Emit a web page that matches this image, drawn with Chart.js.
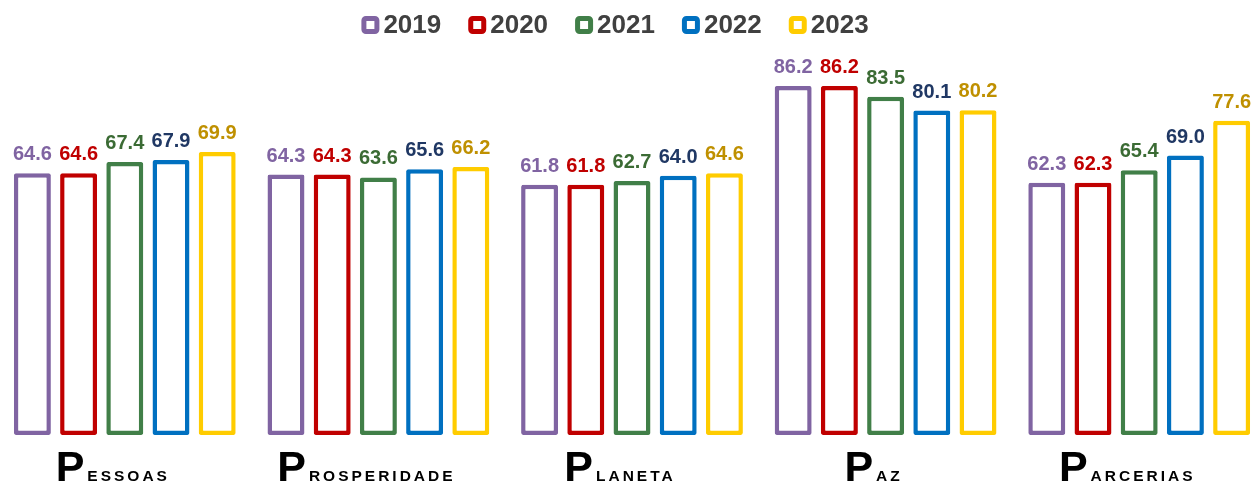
<!DOCTYPE html>
<html lang="pt">
<head>
  <meta charset="UTF-8" />
  <title>ODS por dimensão</title>
  <style>
    body {
      margin: 0;
      background-color: white;
      overflow: hidden;
    }
    #wrap {
      width: 1268px;
      height: 486px;
      margin-left: -2px;
      position: relative;
    }
  </style>
</head>
<body>
  <div id="wrap"><canvas id="chart"></canvas></div>

  <script src="https://cdn.jsdelivr.net/npm/chart.js"></script>
  <script>
    const categories = ['Pessoas', 'Prosperidade', 'Planeta', 'Paz', 'Parcerias'];
    const years = ['2019', '2020', '2021', '2022', '2023'];
    const values2019 = [64.6, 64.3, 61.8, 86.2, 62.3];
    const values2020 = [64.6, 64.3, 61.8, 86.2, 62.3];
    const values2021 = [67.4, 63.6, 62.7, 83.5, 65.4];
    const values2022 = [67.9, 65.6, 64.0, 80.1, 69.0];
    const values2023 = [69.9, 66.2, 64.6, 80.2, 77.6];
    const allValues = [values2019, values2020, values2021, values2022, values2023];

    const barColors = ['#8064A2', '#C00000', '#417F48', '#0070C0', '#FFCC00'];
    const labelColors = ['#8064A2', '#C00000', '#3B6B34', '#203864', '#BF9000'];
    const FONT = "'Liberation Sans', Arial, sans-serif";

    // value labels above each bar
    const valueLabels = {
      id: 'valueLabels',
      afterDatasetsDraw(chart) {
        const ctx = chart.ctx;
        ctx.save();
        ctx.font = 'bold 20px ' + FONT;
        ctx.textAlign = 'center';
        ctx.textBaseline = 'alphabetic';
        chart.data.datasets.forEach((ds, i) => {
          const meta = chart.getDatasetMeta(i);
          ctx.fillStyle = labelColors[i];
          meta.data.forEach((bar, j) => {
            ctx.fillText(ds.data[j].toFixed(1), bar.x, bar.y - 13);
          });
        });
        ctx.restore();
      }
    };

    // category names: big first letter + small caps rest
    const categoryLabels = {
      id: 'categoryLabels',
      afterDraw(chart) {
        const ctx = chart.ctx;
        const xScale = chart.scales.x;
        const baseY = 481;
        ctx.save();
        ctx.fillStyle = '#000';
        ctx.textBaseline = 'alphabetic';
        ctx.textAlign = 'left';
        categories.forEach((name, i) => {
          const first = name[0].toUpperCase();
          const rest = name.slice(1).toUpperCase();
          ctx.font = 'bold 43px ' + FONT;
          ctx.letterSpacing = '0px';
          const wFirst = ctx.measureText(first).width;
          ctx.font = 'bold 15.5px ' + FONT;
          ctx.letterSpacing = '3px';
          const wRest = ctx.measureText(rest).width;
          const total = wFirst + 3 + wRest;
          const x0 = xScale.getPixelForTick(i) - total / 2 - 12;
          ctx.font = 'bold 43px ' + FONT;
          ctx.letterSpacing = '0px';
          ctx.fillText(first, x0, baseY);
          ctx.font = 'bold 15.5px ' + FONT;
          ctx.letterSpacing = '3px';
          ctx.fillText(rest, x0 + wFirst + 3, baseY);
        });
        ctx.restore();
      }
    };

    // legend row at the top
    const topLegend = {
      id: 'topLegend',
      afterDraw(chart) {
        const ctx = chart.ctx;
        const box = 18, gapText = 4, gapItem = 27, cy = 25;
        ctx.save();
        ctx.font = 'bold 26px ' + FONT;
        ctx.textBaseline = 'middle';
        ctx.textAlign = 'left';
        const widths = years.map(y => ctx.measureText(y).width);
        const total = widths.reduce((a, w) => a + box + gapText + w, 0) + gapItem * (years.length - 1);
        let x = chart.width / 2 - 17 - total / 2;
        years.forEach((y, i) => {
          ctx.strokeStyle = barColors[i];
          ctx.lineWidth = 5;
          ctx.beginPath();
          ctx.roundRect(x + 2.5, cy - box / 2 + 2.5, box - 5, box - 5, 2);
          ctx.stroke();
          ctx.fillStyle = '#404040';
          ctx.fillText(y, x + box + gapText, cy + 1);
          x += box + gapText + widths[i] + gapItem;
        });
        ctx.restore();
      }
    };

    const chart = new Chart(document.getElementById('chart'), {
      type: 'bar',
      data: {
        labels: categories,
        datasets: years.map((y, i) => ({
          label: y,
          data: allValues[i],
          backgroundColor: '#FFFFFF',
          borderColor: barColors[i],
          borderWidth: 4.5,
          borderRadius: 2,
          borderSkipped: false,
          categoryPercentage: 0.911,
          barPercentage: 0.8
        }))
      },
      options: {
        responsive: true,
        maintainAspectRatio: false,
        animation: false,
        layout: { padding: { top: 30, bottom: 51, left: 0, right: 0 } },
        plugins: {
          legend: { display: false },
          tooltip: { enabled: false }
        },
        scales: {
          x: { display: false },
          y: { display: false, min: 0, max: 100 }
        }
      },
      plugins: [valueLabels, categoryLabels, topLegend]
    });
  </script>
</body>
</html>
